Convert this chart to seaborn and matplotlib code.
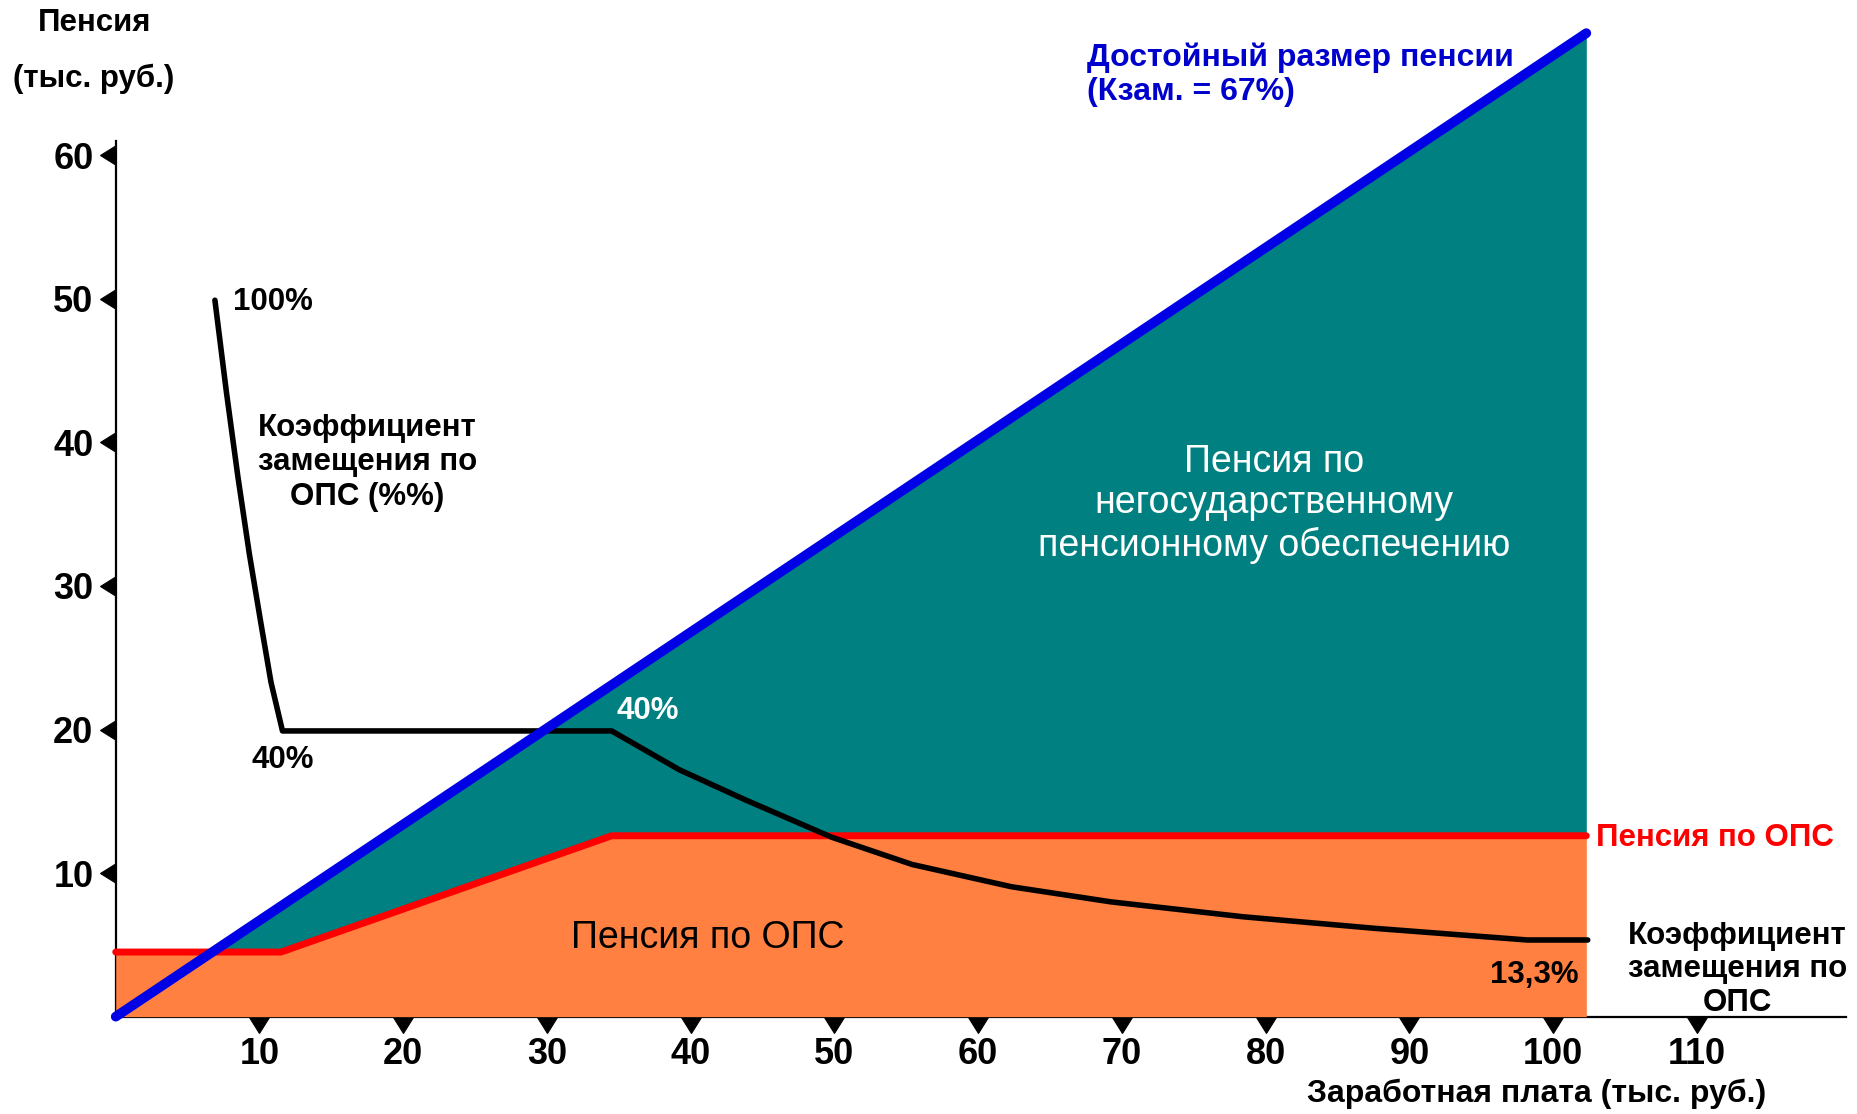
import numpy as np
import pandas as pd
import matplotlib
matplotlib.use("Agg")
import matplotlib.pyplot as plt
import matplotlib.markers as mmarkers
import seaborn as sns

# data (x: salary, y: pension, thousand rub.)
blue_x = [0, 102.3]
blue_y = [0, 68.5]                      # decent pension, Кзам. = 67%
red_x = [0, 11.5, 34.5, 102.3]
red_y = [4.5, 4.5, 12.6, 12.6]          # pension from ОПС
# replacement rate curve, drawn at half scale (100% -> 50)
coef_x = [6.9, 7.7, 8.5, 9.3, 10.1, 10.8, 11.6, 34.5, 39.2, 43.8, 49.8, 55.4, 62.3, 69.2, 78.4, 87.6, 98.2, 102.4]
coef_y = [49.9, 43.5, 37.6, 32.2, 27.4, 23.3, 19.9, 19.9, 17.2, 15.1, 12.5, 10.6, 9.05, 8.0, 6.96, 6.15, 5.34, 5.34]
x_ticks = [10, 20, 30, 40, 50, 60, 70, 80, 90, 100, 110]
y_ticks = [10, 20, 30, 40, 50, 60]

TEAL = "#008080"
ORANGE = "#FF8040"
RED = "#FF0000"
BLUE = "#0000E6"

sns.set_style("white")
plt.rcParams['font.family'] = ['Liberation Sans', 'DejaVu Sans']
plt.rcParams['text.color'] = 'black'
plt.rcParams['xtick.color'] = 'black'
plt.rcParams['ytick.color'] = 'black'

fig = plt.figure(figsize=(18.58, 11.14), dpi=100)
ax = fig.add_axes([0, 0, 1, 1])
ax.set_xlim(-8.05, 121.2)
ax.set_ylim(-6.78, 70.81)

# areas
xs = np.union1d(red_x, blue_x)
red_i = np.interp(xs, red_x, red_y)
blue_i = np.interp(xs, blue_x, blue_y)
ax.fill_between(red_x, 0, red_y, color=ORANGE, lw=0, zorder=1)
ax.fill_between(xs, red_i, blue_i, where=blue_i >= red_i, interpolate=True,
                color=TEAL, lw=0, zorder=1)

lines = pd.DataFrame({"x": red_x, "y": red_y})
sns.lineplot(data=lines, x="x", y="y", ax=ax, color=RED, lw=5, zorder=3)
sns.lineplot(x=coef_x, y=coef_y, ax=ax, color="black", lw=4, sort=False,
             estimator=None, zorder=4)
sns.lineplot(x=blue_x, y=blue_y, ax=ax, color=BLUE, lw=7, zorder=5,
             solid_capstyle="round")

# axes like the original: thin lines with triangle ticks
for s in ["top", "right"]:
    ax.spines[s].set_visible(False)
ax.spines["left"].set_position(("data", 0))
ax.spines["bottom"].set_position(("data", 0))
ax.spines["left"].set_bounds(0, 61.0)
ax.spines["bottom"].set_bounds(0, 120.4)
for s in ["left", "bottom"]:
    ax.spines[s].set_linewidth(1.6)
    ax.spines[s].set_color("black")
    ax.spines[s].set_zorder(0.5)

ax.set_xticks(x_ticks)
ax.set_yticks(y_ticks)
ax.set_xticklabels([str(v) for v in x_ticks], fontsize=26, fontweight="bold")
ax.set_yticklabels([str(v) for v in y_ticks], fontsize=26, fontweight="bold")
ax.tick_params(axis="x", length=11, pad=4, bottom=True)
ax.tick_params(axis="y", length=11, pad=5, left=True)
for t in ax.xaxis.get_major_ticks():
    t.tick1line.set_marker(mmarkers.CARETDOWNBASE)
    t.tick1line.set_markersize(15)
    t.tick1line.set_color("black")
for t in ax.yaxis.get_major_ticks():
    t.tick1line.set_marker(mmarkers.CARETLEFTBASE)
    t.tick1line.set_markersize(15)
    t.tick1line.set_color("black")
ax.set_xlabel("")
ax.set_ylabel("")

# texts
bold = dict(fontsize=22.5, fontweight="bold", ha="center", va="center")
ax.text(-1.45, 69.2, "Пенсия", **bold)
ax.text(-1.54, 65.3, "(тыс. руб.)", **bold)
ax.text(67.6, 65.6, "Достойный размер пенсии\n(Кзам. = 67%)", fontsize=23,
        fontweight="bold", color="#0000CC", ha="left", va="center", linespacing=1.15)
ax.text(8.19, 49.8, "100%", fontsize=22.5, fontweight="bold", ha="left", va="center")
ax.text(17.5, 38.6, "Коэффициент\nзамещения по\nОПС (%%)", linespacing=1.2, **bold)
ax.text(11.6, 17.9, "40%", **bold)
ax.text(37.0, 21.3, "40%", color="white", zorder=6, **bold)
ax.text(80.6, 35.7, "Пенсия по\nнегосударственному\nпенсионному обеспечению",
        fontsize=27, color="white", ha="center", va="center", linespacing=1.2, zorder=6)
ax.text(103.0, 12.46, "Пенсия по ОПС", fontsize=22.5, fontweight="bold", color=RED,
        ha="left", va="center")
ax.text(41.15, 5.45, "Пенсия по ОПС", fontsize=27, ha="center", va="center", zorder=6)
ax.text(98.7, 2.88, "13,3%", zorder=6, **bold)
ax.text(112.8, 3.3, "Коэффициент\nзамещения по\nОПС", linespacing=1.15, zorder=6, **bold)
ax.text(98.85, -5.37, "Заработная плата (тыс. руб.)", fontsize=23,
        fontweight="bold", ha="center", va="center")

fig.savefig("out.png", dpi=100)
